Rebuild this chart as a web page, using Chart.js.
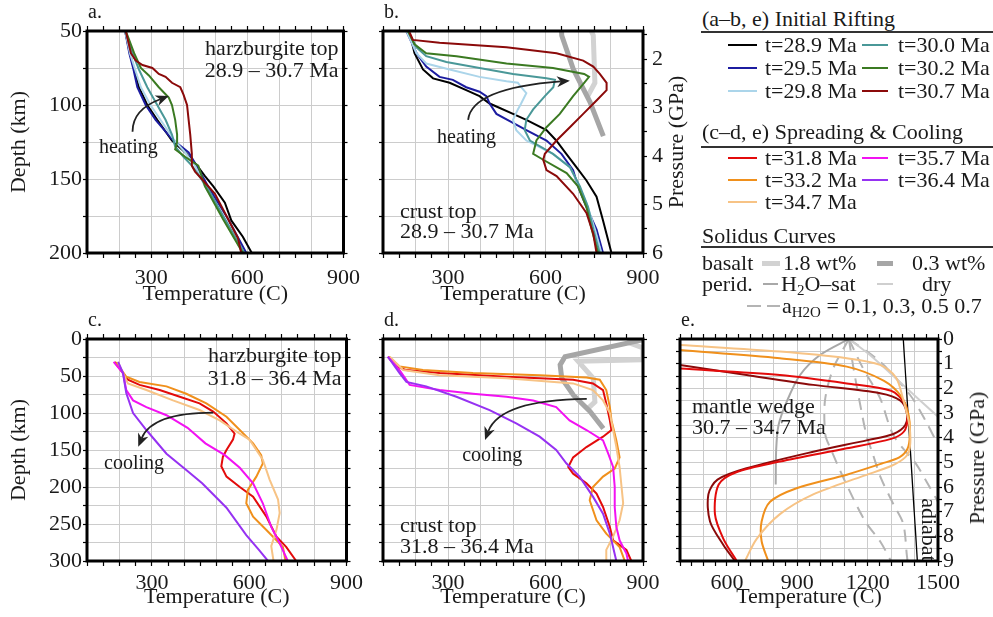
<!DOCTYPE html>
<html>
<head>
<meta charset="utf-8">
<title>Temperature profiles</title>
<script src="https://cdn.jsdelivr.net/npm/chart.js@4.4.1/dist/chart.umd.min.js"></script>
<style>
  html, body { margin: 0; padding: 0; background: #fff; }
  #fig { position: relative; width: 993px; height: 617px; overflow: hidden;
         font-family: "Liberation Serif", "DejaVu Serif", serif; color: #1a1a1a; }
  #fig canvas { position: absolute; }
  .txt { position: absolute; font-size: 22px; line-height: 24px; white-space: nowrap; }
  .txt sub { font-size: 15px; line-height: 0; vertical-align: -4px; }
  .rot { transform: translate(-50%, -50%) rotate(-90deg); }
  .mark { position: absolute; }
</style>
</head>
<body>
<div id="fig"></div>
<script>
// panels a-d: [temperature (C), depth (km)]
const harzA_289 = [[219,50],[234,65],[247,76],[262,88],[288,100],[319,110],[365,124],[411,133],[447,142],[468,148],[494,155],[530,166],[550,178],[586,189],[614,200]];
const harzA_295 = [[219,50],[232,65],[245,76],[257,88],[283,100],[314,110],[365,123],[417,132],[442,141],[478,155],[540,177],[597,200]];
const harzA_298 = [[219,50],[234,65],[250,76],[268,88],[298,100],[329,110],[370,123],[406,132],[437,141],[468,155],[530,177],[586,200]];
const harzA_300 = [[219,50],[242,65],[262,76],[288,88],[319,100],[345,110],[365,120],[375,128],[401,135],[427,141],[473,155],[530,177],[591,200]];
const harzA_302 = [[221,50],[247,65],[268,75],[293,80],[324,88],[355,95],[365,100],[375,110],[381,120],[381,125],[375,130],[406,135],[447,141],[468,155],[524,177],[586,200]];
const harzA_307 = [[221,50],[237,65],[252,70],[273,73],[304,75],[324,79],[345,81],[365,85],[391,88],[401,93],[412,100],[417,110],[422,120],[427,133],[427,141],[437,145],[458,150],[499,160],[540,177],[571,190],[581,200]];

const crustB_289 = [[172,50],[187,56],[197,65],[223,76],[254,82],[305,85],[356,90],[397,94],[428,99],[449,101],[500,106],[541,110],[603,117],[633,124],[664,133],[695,142],[726,151],[757,162],[777,178],[803,200]];
const crustB_295 = [[172,50],[203,65],[233,74],[274,81],[315,83],[356,88],[397,91],[418,94],[428,99],[449,106],[500,112],[541,117],[603,124],[649,133],[685,144],[700,155],[726,169],[757,184],[777,200]];
const crustB_298 = [[172,50],[203,65],[233,72],[305,76],[397,81],[480,84],[515,85],[525,88],[541,92],[525,99],[515,103],[500,110],[510,117],[541,124],[623,133],[675,142],[695,151],[726,166],[752,184],[772,200]];
const crustB_300 = [[177,50],[203,61],[233,67],[295,71],[397,75],[500,79],[603,82],[629,83],[624,88],[598,94],[562,103],[541,110],[536,117],[552,124],[623,133],[675,142],[706,155],[731,169],[747,184],[767,200]];
const crustB_302 = [[177,50],[197,59],[233,65],[326,67],[480,72],[623,75],[719,79],[734,81],[719,85],[685,94],[644,106],[603,115],[572,124],[562,133],[593,137],[665,146],[700,155],[726,169],[742,184],[762,200]];
const crustB_307 = [[182,51],[192,56],[274,58],[480,61],[634,65],[716,70],[747,74],[767,79],[788,85],[788,90],[757,97],[716,106],[675,115],[634,124],[598,133],[593,137],[603,144],[634,148],[685,160],[726,173],[747,187],[757,200]];

const harzC_318 = [[185,31],[211,46],[226,55],[262,62],[324,69],[386,78],[447,87],[489,98],[530,114],[555,128],[550,136],[530,150],[519,159],[514,172],[530,186],[571,200],[612,213],[653,240],[684,267],[714,281],[745,300]];
const harzC_332 = [[190,31],[221,51],[262,58],[345,64],[406,74],[468,87],[530,105],[571,123],[612,141],[637,157],[642,168],[622,186],[596,204],[591,222],[612,240],[653,258],[684,272],[704,281],[712,300]];
const harzC_347 = [[195,31],[226,60],[283,69],[365,83],[447,96],[509,110],[571,128],[601,136],[642,163],[663,190],[689,217],[694,235],[684,258],[668,280],[675,300]];
const harzC_357 = [[182,31],[211,46],[221,69],[242,83],[283,92],[345,103],[410,120],[465,141],[525,157],[571,174],[612,195],[642,222],[668,254],[694,276],[719,300]];
const harzC_364 = [[196,31],[211,46],[221,73],[242,100],[283,123],[345,155],[406,177],[455,195],[530,228],[591,265],[630,285],[658,300]];

const crustD_318 = [[115,24],[141,37],[172,42],[274,46],[480,51],[685,55],[746,60],[777,69],[787,87],[798,110],[803,123],[777,132],[726,146],[685,160],[670,173],[685,182],[726,195],[757,209],[777,227],[798,254],[808,272],[849,285],[864,300]];
const crustD_332 = [[118,24],[151,37],[223,42],[377,46],[582,49],[726,52],[767,55],[787,69],[798,92],[803,110],[818,137],[828,160],[813,175],[777,186],[746,200],[736,218],[757,245],[787,263],[828,281],[844,300]];
const crustD_347 = [[121,24],[162,42],[274,49],[480,53],[685,60],[746,69],[777,83],[798,100],[808,123],[818,146],[828,173],[834,200],[839,222],[828,245],[808,267],[787,285],[787,300]];
const crustD_357 = [[115,24],[151,42],[182,62],[274,69],[377,74],[480,78],[562,83],[633,92],[674,110],[726,123],[777,137],[793,155],[808,173],[813,200],[813,227],[818,254],[828,272],[849,290],[854,300]];
const crustD_364 = [[115,24],[151,46],[172,58],[233,64],[326,78],[428,96],[510,114],[582,132],[633,150],[664,168],[705,186],[746,213],[777,236],[798,263],[818,300]];

// basalt solidus, [temperature (C), depth (km)]
const solidus03 = [[900,1],[660,24],[645,35],[650,53],[686,76],[737,98],[778,121]];
const solidus18 = [[850,4],[900,12],[900,28],[700,30],[747,53],[752,85],[730,94]];

// panel e: [temperature (C), pressure (GPa)]
const wedgeE_307 = [[400,1.05],[684,1.46],[968,1.86],[1253,2.2],[1340,2.5],[1367,3.0],[1360,3.5],[1310,3.85],[1200,4.1],[968,4.57],[684,5.24],[560,5.7],[521,6.3],[528,7.4],[585,8.35],[634,9]];
const wedgeE_318 = [[400,1.2],[826,1.46],[1111,1.8],[1300,2.1],[1358,2.6],[1370,3.2],[1355,3.75],[1300,4.05],[1111,4.43],[826,4.97],[640,5.4],[565,5.9],[549,7.1],[585,8.1],[642,9]];
const wedgeE_332 = [[400,0.45],[826,0.78],[1111,1.12],[1270,1.7],[1345,2.35],[1375,3.1],[1380,3.9],[1370,4.45],[1335,4.8],[1260,5.05],[1111,5.5],[897,6.05],[784,6.6],[748,7.4],[748,8.2],[776,9]];
const wedgeE_347 = [[400,0.24],[826,0.51],[1111,0.78],[1253,1.05],[1320,1.55],[1350,2.4],[1378,3.5],[1380,4.4],[1360,4.8],[1300,5.15],[1182,5.55],[968,6.3],[826,7.1],[727,8.1],[677,9]];

const h2oSat = [[1120,0],[997,0.65],[912,1.46],[855,2.54],[820,3.5],[810,4.5],[808,5.9]];
const drySolidus = [[1120,0],[1210,0.65],[1352,1.87],[1500,3.15]];
const aH2O_07 = [[1120,0],[1053,1.2],[1018,2.5],[1020,3.9],[1040,4.4],[1105,5.8],[1190,7.4],[1253,8.2],[1300,9]];
const aH2O_05 = [[1120,0],[1140,1.2],[1165,2.5],[1195,3.9],[1220,4.6],[1255,5.6],[1310,6.7],[1352,7.5],[1367,8.75],[1370,9]];
const aH2O_03 = [[1120,0],[1181,1.2],[1253,2.4],[1310,3.9],[1409,5.1],[1452,5.8],[1500,6.6]];
const aH2O_01 = [[1120,0],[1253,0.92],[1381,2.27],[1452,3.4],[1500,4.3]];
const adiabat = [[1352,0],[1412,9]];

// tick labels
const tempLabels = [300, 600, 900];
const tempLabelsWedge = [600, 900, 1200, 1500];
const depthLabelsTop = [50, 100, 150, 200];
const depthLabelsBottom = [0, 50, 100, 150, 200, 250, 300];
const pressLabelsCrust = [2, 3, 4, 5, 6];
const pressLabelsWedge = [0, 1, 2, 3, 4, 5, 6, 7, 8, 9];

// series names and colours
const riftTimes = ['t=28.9 Ma', 't=29.5 Ma', 't=29.8 Ma', 't=30.0 Ma', 't=30.2 Ma', 't=30.7 Ma'];
const riftColors = ['#000000', '#1c1ca0', '#abd5ea', '#4a9898', '#3b7a22', '#8b0a0a'];
const coolTimes = ['t=31.8 Ma', 't=33.2 Ma', 't=34.7 Ma', 't=35.7 Ma', 't=36.4 Ma'];
const coolColors = ['#e30b0b', '#f0901c', '#f7c385', '#f212f2', '#9632f2'];

const INK = '#1a1a1a';
const GRID = '#cccccc';
const SOL_DARK = '#a6a6a6';
const SOL_LIGHT = '#d2d2d2';
const FONT = '"Liberation Serif", "DejaVu Serif", serif';

Chart.defaults.font.family = FONT;
Chart.defaults.font.size = 22;
Chart.defaults.color = INK;

const fig = document.getElementById('fig');

function curve(arr, color, extra) {
  return Object.assign({
    data: arr.map(p => ({ x: p[0], y: p[1] })),
    showLine: true, borderColor: color, backgroundColor: color,
    borderWidth: 2, pointRadius: 0, pointHoverRadius: 0, tension: 0, fill: false
  }, extra || {});
}

function axisX(pos, sp) {
  const bottom = pos === 'bottom';
  return {
    type: 'linear', position: pos, min: sp.x[0], max: sp.x[1],
    afterFit: s => { s.height = bottom ? sp.padB : sp.padT; },
    border: { display: false },
    grid: {
      drawOnChartArea: bottom,
      color: c => (c.tick && c.tick.value % 100 === 0) ? GRID : 'rgba(0,0,0,0)',
      tickColor: '#000', tickLength: 5, tickWidth: 1.2, lineWidth: 1
    },
    ticks: {
      stepSize: 50, includeBounds: false, autoSkip: false, maxRotation: 0, minRotation: 0,
      padding: sp.xPad, color: INK,
      callback: v => (bottom && sp.xLabels.includes(v)) ? String(v) : ''
    },
    title: { display: bottom, text: 'Temperature (C)', color: INK, padding: { top: 0, bottom: sp.titlePad } }
  };
}

function axisY(pos, rng, sp, main) {
  const left = pos === 'left';
  return {
    type: 'linear', position: pos, min: rng.min, max: rng.max, reverse: true,
    afterFit: s => { s.width = left ? sp.padL : sp.padR; },
    border: { display: false },
    grid: { drawOnChartArea: main, color: GRID, tickColor: '#000', tickLength: 4, tickWidth: 1.2, lineWidth: 1 },
    ticks: {
      stepSize: rng.step, includeBounds: false, autoSkip: false, padding: rng.pad || 1, color: INK,
      callback: v => (rng.labels && rng.labels.includes(v)) ? String(v) : ''
    },
    title: { display: !!rng.title, text: rng.title || '', color: INK, padding: { top: 6, bottom: 0 } }
  };
}

// frame, panel letter, notes, arrows
const decor = {
  id: 'decor',
  afterDatasetsDraw(chart, args, o) {
    const { ctx, chartArea: A } = chart;
    const X = chart.scales.x, Y = chart.scales.y;
    ctx.save();
    ctx.fillStyle = INK;
    ctx.textBaseline = 'middle';

    if (o.arrow) {
      const [p0, pc, p1] = o.arrow.map(p => [X.getPixelForValue(p[0]), Y.getPixelForValue(p[1])]);
      const ang = Math.atan2(p1[1] - pc[1], p1[0] - pc[0]);
      const hl = 13, hw = 5.5;
      const cs = Math.cos(ang), sn = Math.sin(ang);
      ctx.strokeStyle = '#222';
      ctx.fillStyle = '#222';
      ctx.lineWidth = 1.8;
      ctx.beginPath();
      ctx.moveTo(p0[0], p0[1]);
      ctx.quadraticCurveTo(pc[0], pc[1], p1[0] - hl * 0.7 * cs, p1[1] - hl * 0.7 * sn);
      ctx.stroke();
      ctx.beginPath();
      ctx.moveTo(p1[0], p1[1]);
      ctx.lineTo(p1[0] - hl * cs + hw * sn, p1[1] - hl * sn - hw * cs);
      ctx.lineTo(p1[0] - hl * 0.7 * cs, p1[1] - hl * 0.7 * sn);
      ctx.lineTo(p1[0] - hl * cs - hw * sn, p1[1] - hl * sn + hw * cs);
      ctx.closePath();
      ctx.fill();
      ctx.fillStyle = INK;
    }

    (o.words || []).forEach(w => {
      ctx.save();
      ctx.font = (w.size || 20) + 'px ' + FONT;
      ctx.textAlign = 'center';
      ctx.translate(X.getPixelForValue(w.x), Y.getPixelForValue(w.y));
      if (w.rot) ctx.rotate(w.rot);
      ctx.fillText(w.text, 0, 0);
      ctx.restore();
    });

    ctx.font = '22px ' + FONT;
    (o.notes || []).forEach(n => {
      const right = n.anchor[1] === 'r';
      const bottom = n.anchor[0] === 'b';
      ctx.textAlign = right ? 'right' : 'left';
      ctx.fillText(n.text, (right ? A.right : A.left) + n.dx, (bottom ? A.bottom : A.top) + n.dy);
    });

    ctx.strokeStyle = '#000';
    ctx.lineWidth = 3;
    ctx.strokeRect(A.left, A.top, A.right - A.left, A.bottom - A.top);

    ctx.font = '20px ' + FONT;
    ctx.textAlign = 'left';
    ctx.fillText(o.label, A.left + 1, A.top - 18);
    ctx.restore();
  }
};

function riftSets(list) {
  return list.map((arr, i) => curve(arr, riftColors[i], { order: 10 - i }));
}
function coolSets(list) {
  return list.map((arr, i) => curve(arr, coolColors[i], { order: 10 - i }));
}
function soliSets() {
  return [
    curve(solidus03, SOL_DARK, { borderWidth: 5, order: 30 }),
    curve(solidus18, SOL_LIGHT, { borderWidth: 5, order: 31 })
  ];
}

const specs = [
  {
    left: 0, top: 0, w: 367, h: 310, padL: 87, padR: 20, padT: 31, padB: 57, xPad: 7, titlePad: 3,
    x: [100, 900], xLabels: tempLabels,
    yL: { min: 50, max: 200, step: 25, labels: depthLabelsTop, title: 'Depth (km)' },
    yR: { min: 50, max: 200, step: 25 },
    sets: riftSets([harzA_289, harzA_295, harzA_298, harzA_300, harzA_302, harzA_307]),
    decor: {
      label: 'a.',
      notes: [{ text: 'harzburgite top', anchor: 'tr', dx: -5, dy: 18 }, { text: '28.9 – 30.7 Ma', anchor: 'tr', dx: -5, dy: 40 }],
      arrow: [[242, 118], [242, 103], [355, 94]],
      words: [{ text: 'heating', x: 229, y: 129 }]
    }
  },
  {
    left: 340, top: 0, w: 355, h: 310, padL: 43, padR: 52, padT: 31, padB: 57, xPad: 7, titlePad: 3,
    x: [100, 900], xLabels: tempLabels,
    yL: { min: 50, max: 200, step: 25 },
    yR: { min: 1.42, max: 6, step: 0.5, labels: pressLabelsCrust, pad: 5 },
    sets: riftSets([crustB_289, crustB_295, crustB_298, crustB_300, crustB_302, crustB_307]).concat(soliSets()),
    decor: {
      label: 'b.',
      notes: [{ text: 'crust top', anchor: 'bl', dx: 17, dy: -41 }, { text: '28.9 – 30.7 Ma', anchor: 'bl', dx: 17, dy: -21 }],
      arrow: [[362, 110], [373, 88.7], [675, 83.6]],
      words: [{ text: 'heating', x: 357, y: 122 }]
    }
  },
  {
    left: 0, top: 308, w: 367, h: 310, padL: 87, padR: 20, padT: 31, padB: 57, xPad: 4, titlePad: 8,
    x: [100, 900], xLabels: tempLabels,
    yL: { min: 0, max: 300, step: 25, labels: depthLabelsBottom, title: 'Depth (km)' },
    yR: { min: 0, max: 300, step: 25 },
    sets: coolSets([harzC_318, harzC_332, harzC_347, harzC_357, harzC_364]),
    decor: {
      label: 'c.',
      notes: [{ text: 'harzburgite top', anchor: 'tr', dx: -5, dy: 17 }, { text: '31.8 – 36.4 Ma', anchor: 'tr', dx: -5, dy: 40 }],
      arrow: [[489, 99.6], [301, 99.6], [258, 145.5]],
      words: [{ text: 'cooling', x: 245, y: 168 }]
    }
  },
  {
    left: 340, top: 308, w: 355, h: 310, padL: 43, padR: 52, padT: 31, padB: 57, xPad: 4, titlePad: 8,
    x: [100, 900], xLabels: tempLabels,
    yL: { min: 0, max: 300, step: 25 },
    yR: { min: 0, max: 300, step: 25 },
    sets: coolSets([crustD_318, crustD_332, crustD_347, crustD_357, crustD_364]).concat(soliSets()),
    decor: {
      label: 'd.',
      notes: [{ text: 'crust top', anchor: 'bl', dx: 17, dy: -35 }, { text: '31.8 – 36.4 Ma', anchor: 'bl', dx: 17, dy: -14 }],
      arrow: [[727, 81], [460, 82.4], [414, 136.5]],
      words: [{ text: 'cooling', x: 436, y: 158 }]
    }
  },
  {
    left: 640, top: 308, w: 353, h: 310, padL: 40, padR: 55, padT: 31, padB: 57, xPad: 4, titlePad: 8,
    x: [400, 1500], xLabels: tempLabelsWedge,
    yL: { min: 0, max: 9, step: 0.5 },
    yR: { min: 0, max: 9, step: 0.5, labels: pressLabelsWedge, pad: 1 },
    sets: [
      curve(wedgeE_347, coolColors[2], { tension: 0.3, order: 1 }),
      curve(wedgeE_332, coolColors[1], { tension: 0.3, order: 2 }),
      curve(wedgeE_318, coolColors[0], { tension: 0.3, order: 3 }),
      curve(wedgeE_307, riftColors[5], { tension: 0.3, order: 4 }),
      curve(adiabat, '#000', { borderWidth: 1.3, order: 5 }),
      curve(h2oSat, '#a8a8a8', { tension: 0.3, order: 20 }),
      curve(drySolidus, '#cfcfcf', { tension: 0.3, order: 21 }),
      curve(aH2O_07, '#b4b4b4', { tension: 0.3, borderDash: [12, 8], order: 22 }),
      curve(aH2O_05, '#b4b4b4', { tension: 0.3, borderDash: [12, 8], order: 23 }),
      curve(aH2O_03, '#b4b4b4', { tension: 0.3, borderDash: [12, 8], order: 24 }),
      curve(aH2O_01, '#b4b4b4', { tension: 0.3, borderDash: [12, 8], order: 25 })
    ],
    decor: {
      label: 'e.',
      notes: [{ text: 'mantle wedge', anchor: 'tl', dx: 12, dy: 68 }, { text: '30.7 – 34.7 Ma', anchor: 'tl', dx: 12, dy: 89 }],
      words: [{ text: 'adiabat', x: 1457, y: 7.74, rot: Math.PI / 2, size: 22 }]
    }
  }
];

specs.forEach(sp => {
  const cv = document.createElement('canvas');
  cv.width = sp.w;
  cv.height = sp.h;
  cv.style.left = sp.left + 'px';
  cv.style.top = sp.top + 'px';
  cv.style.width = sp.w + 'px';
  cv.style.height = sp.h + 'px';
  fig.appendChild(cv);
  new Chart(cv, {
    type: 'scatter',
    data: { datasets: sp.sets },
    options: {
      responsive: false,
      animation: false,
      devicePixelRatio: 1,
      events: [],
      layout: { padding: 0 },
      plugins: { legend: { display: false }, tooltip: { enabled: false }, decor: sp.decor },
      scales: {
        x: axisX('bottom', sp),
        x2: axisX('top', sp),
        y: axisY('left', sp.yL, sp, true),
        y2: axisY('right', sp.yR, sp, false)
      }
    },
    plugins: [decor]
  });
});

// text and legend around the panels
function addText(html, x, cy, rot) {
  const d = document.createElement('div');
  d.className = 'txt' + (rot ? ' rot' : '');
  d.innerHTML = html;
  d.style.left = x + 'px';
  d.style.top = (rot ? cy : cy - 12) + 'px';
  fig.appendChild(d);
}
function addMark(x1, x2, cy, color, w) {
  const d = document.createElement('div');
  d.className = 'mark';
  d.style.left = x1 + 'px';
  d.style.width = (x2 - x1) + 'px';
  d.style.top = (cy - w / 2) + 'px';
  d.style.height = w + 'px';
  d.style.background = color;
  fig.appendChild(d);
}

addText('Pressure (GPa)', 676, 142, true);
addText('Pressure (GPa)', 977, 458, true);

addText('(a–b, e) Initial Rifting', 702, 19);
addMark(701, 993, 32, '#333', 1.5);
riftTimes.forEach((t, i) => {
  const col = i < 3 ? 0 : 1, cy = [45, 68, 91][i % 3];
  addMark(col ? 862 : 728, col ? 888 : 757, cy, riftColors[i], 2);
  addText(t, col ? 898 : 765, cy);
});

addText('(c–d, e) Spreading &amp; Cooling', 702, 132);
addMark(701, 993, 147, '#333', 1.5);
coolTimes.forEach((t, i) => {
  const col = i < 3 ? 0 : 1, cy = [158, 180, 202][i % 3];
  addMark(col ? 862 : 728, col ? 888 : 757, cy, coolColors[i], 2);
  addText(t, col ? 898 : 765, cy);
});

addText('Solidus Curves', 702, 236);
addMark(701, 993, 247, '#333', 1.5);
addText('basalt', 702, 263);
addMark(762, 780, 263, SOL_LIGHT, 5);
addText('1.8 wt%', 783, 263);
addMark(877, 893, 263, SOL_DARK, 5);
addText('0.3 wt%', 912, 263);
addText('perid.', 702, 284);
addMark(763, 778, 284, '#a8a8a8', 2);
addText('H<sub>2</sub>O–sat', 781, 284);
addMark(877, 893, 284, '#cfcfcf', 2);
addText('dry', 922, 284);
addMark(747, 761, 306, '#b4b4b4', 2);
addMark(767, 780, 306, '#b4b4b4', 2);
addText('a<sub>H2O</sub> = 0.1, 0.3, 0.5 0.7', 782, 306);
</script>
</body>
</html>
